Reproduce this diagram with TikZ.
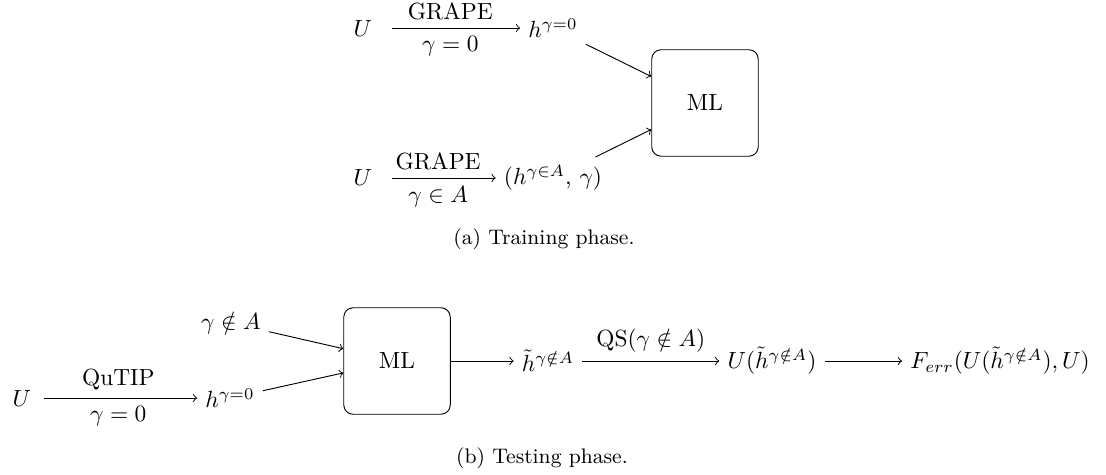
\documentclass[tikz,border=0pt]{standalone}
\usepackage{amsmath,amssymb}
\usepackage{tikz}
\usepackage{xcolor}

\begin{document}
\begin{tikzpicture}[line width=0.4pt,
  mlbox/.style={draw, rounded corners, minimum width=1.6cm, minimum height=1.6cm}]
\useasboundingbox (0,0) rectangle (16.614,-7.135);

% (a) training
\node (ua) at (5.453,-0.421) {$U$};
\node (ha) at (8.307,-0.421) {$h^{\gamma=0}$};
\node (ub) at (5.453,-2.674) {$U$};
\node (hb) at (8.307,-2.674) {$(h^{\gamma\in A}$, $\gamma)$};
\node[mlbox] (mla) at (10.590,-1.547) {ML};
\node[font=\small] (capa) at (8.172,-3.590) {(a) Training phase.};

\draw[->,shorten <=5pt] (ua) -- (ha) node[midway,above] {GRAPE} node[midway,below] {$\gamma=0$};
\draw[->,shorten <=5pt] (ub) -- (hb) node[midway,above] {GRAPE} node[midway,below] {$\gamma\in A$};
\draw[->] (ha) -- (mla);
\draw[->] (hb) -- (mla);

% (b) testing
\node (uc) at (0.330,-5.979) {$U$};
\node (hc) at (3.455,-5.979) {$h^{\gamma=0}$};
\node (gn) at (3.470,-4.852) {$\gamma\notin A$};
\node[mlbox] (mlb) at (5.964,-5.423) {ML};
\node (ht) at (8.232,-5.423) {$\tilde{h}^{\gamma\notin A}$};
\node (uh) at (11.597,-5.423) {$U(\tilde{h}^{\gamma\notin A})$};
\node (fe) at (15.022,-5.423) {$F_{err}(U(\tilde{h}^{\gamma\notin A}),U)$};
\node[font=\small] (capb) at (8.142,-6.880) {(b) Testing phase.};

\draw[->,shorten <=2pt] (uc) -- (hc) node[midway,above] {QuTIP} node[midway,below] {$\gamma=0$};
\draw[->] (gn) -- (mlb);
\draw[->] (hc) -- (mlb);
\draw[->] (mlb) -- (ht);
\draw[->] (ht) -- (uh) node[midway,above] {QS$(\gamma\notin A)$};
\draw[->] (uh) -- (fe);
\end{tikzpicture}
\end{document}
